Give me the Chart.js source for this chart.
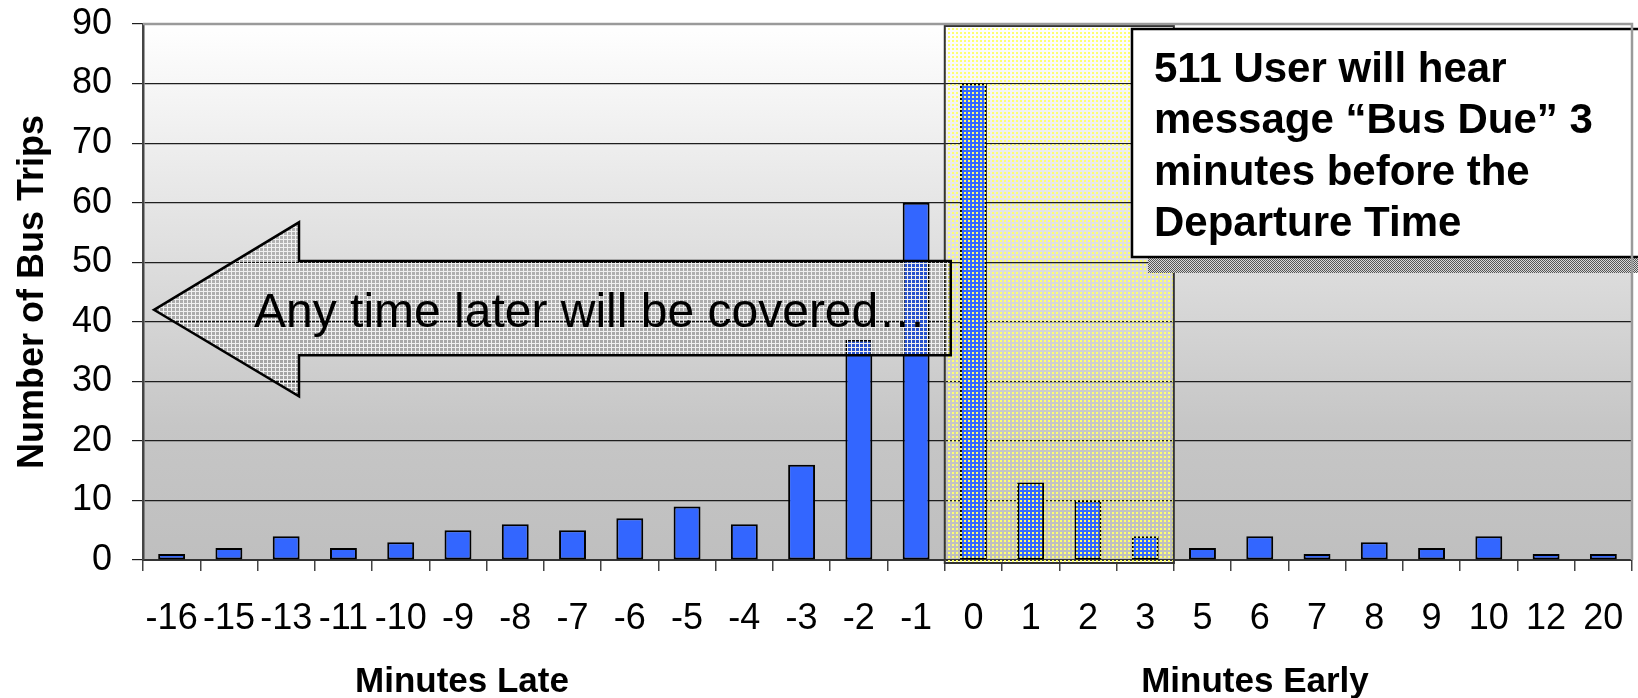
<!DOCTYPE html>
<html>
<head>
<meta charset="utf-8">
<script src="https://cdn.jsdelivr.net/npm/chart.js@4.4.1/dist/chart.umd.min.js"></script>
<style>
  html, body { margin: 0; padding: 0; background: #fff; }
  canvas { display: block; }
</style>
</head>
<body>
<canvas id="busChart" width="1638" height="698"></canvas>
<script>
// Bus departure deviation (negative = late, positive = early)
const minuteLabels = ['-16','-15','-13','-11','-10','-9','-8','-7','-6','-5','-4','-3','-2','-1',
                      '0','1','2','3','5','6','7','8','9','10','12','20'];
const busTrips = [1, 2, 4, 2, 3, 5, 6, 5, 7, 9, 6, 16, 37, 60,
                  80, 13, 10, 4, 2, 4, 1, 3, 2, 4, 1, 1];
const yTickValues = [0, 10, 20, 30, 40, 50, 60, 70, 80, 90];
const dueWindow = ['0', '3'];            // "Bus Due" window (first / last category)
const xTitles = ['Minutes Late', 'Minutes Early'];
const yTitle = 'Number of Bus Trips';
const noteLines = ['511 User will hear', 'message \u201cBus Due\u201d 3', 'minutes before the', 'Departure Time'];
const arrowText = 'Any time later will be covered\u2026';

Chart.defaults.font.family = '"Liberation Sans", Arial, sans-serif';
Chart.defaults.color = '#000';

function makePattern(ctx, size, draw) {
    const c = document.createElement('canvas');
    c.width = c.height = size;
    draw(c.getContext('2d'));
    return ctx.createPattern(c, 'repeat');
}

const overlays = {
    id: 'overlays',
    beforeDraw(chart) {
        const { ctx, chartArea: a } = chart;
        const g = ctx.createLinearGradient(0, a.top, 0, a.bottom);
        g.addColorStop(0, '#ffffff');
        g.addColorStop(0.75, '#c6c6c6');
        g.addColorStop(1, '#bfbfbf');
        ctx.save();
        ctx.fillStyle = g;
        ctx.fillRect(a.left, a.top, a.right - a.left, a.bottom - a.top);
        ctx.restore();
    },
    afterDatasetsDraw(chart) {
        const { ctx, chartArea: a, scales: { x, y } } = chart;
        const half = (x.getPixelForValue(1) - x.getPixelForValue(0)) / 2;
        ctx.save();

        // yellow "Bus Due" window (dotted overlay)
        const bx0 = x.getPixelForValue(minuteLabels.indexOf(dueWindow[0])) - half;
        const bx1 = x.getPixelForValue(minuteLabels.indexOf(dueWindow[1])) + half;
        const by0 = a.top + 2, by1 = a.bottom + 3;
        ctx.fillStyle = makePattern(ctx, 4, p => {
            p.fillStyle = '#ffff70';
            p.fillRect(0, 0, 2, 2);
        });
        ctx.fillRect(bx0, by0, bx1 - bx0, by1 - by0);
        ctx.strokeStyle = '#333';
        ctx.lineWidth = 2;
        ctx.strokeRect(bx0, by0, bx1 - bx0, by1 - by0);

        // left arrow
        const tipX = a.left + 11, headX = a.left + 156, endX = bx0 + 6;
        const tipY = y.getPixelForValue(42);
        const headTop = y.getPixelForValue(56.7), headBot = y.getPixelForValue(27.5);
        const bodyTop = y.getPixelForValue(50.2), bodyBot = y.getPixelForValue(34.4);
        ctx.beginPath();
        ctx.moveTo(tipX, tipY);
        ctx.lineTo(headX, headTop);
        ctx.lineTo(headX, bodyTop);
        ctx.lineTo(endX, bodyTop);
        ctx.lineTo(endX, bodyBot);
        ctx.lineTo(headX, bodyBot);
        ctx.lineTo(headX, headBot);
        ctx.closePath();
        ctx.fillStyle = 'rgba(0,0,0,0.2)';
        ctx.fill();
        ctx.fillStyle = makePattern(ctx, 4, p => {
            p.fillStyle = '#f0f0f0';
            p.fillRect(0, 3, 4, 1);
            p.fillRect(3, 0, 1, 4);
        });
        ctx.fill();
        ctx.strokeStyle = '#000';
        ctx.lineWidth = 2.5;
        ctx.lineJoin = 'miter';
        ctx.stroke();
        ctx.fillStyle = '#000';
        ctx.font = '48px "Liberation Sans", Arial, sans-serif';
        ctx.textAlign = 'left';
        ctx.textBaseline = 'alphabetic';
        ctx.fillText(arrowText, a.left + 111, (bodyTop + bodyBot) / 2 + 19);

        // note box with checkered shadow
        const nx = 1132, ny = 29, nh = 228;
        ctx.fillStyle = makePattern(ctx, 2, p => {
            p.fillStyle = '#d8d8d8'; p.fillRect(0, 0, 2, 2);
            p.fillStyle = '#555'; p.fillRect(0, 0, 1, 1); p.fillRect(1, 1, 1, 1);
        });
        ctx.fillRect(nx + 16, ny + nh, chart.width - nx - 16, 16);
        ctx.fillStyle = '#fff';
        ctx.fillRect(nx, ny, chart.width - nx + 10, nh);
        ctx.strokeStyle = '#000';
        ctx.lineWidth = 2.5;
        ctx.strokeRect(nx, ny, chart.width - nx + 10, nh);
        ctx.fillStyle = '#000';
        ctx.font = 'bold 42px "Liberation Sans", Arial, sans-serif';
        noteLines.forEach((t, i) => ctx.fillText(t, nx + 22, ny + 53 + i * 51.3));

        // plot frame (top and right)
        ctx.strokeStyle = '#9a9a9a';
        ctx.lineWidth = 2.5;
        ctx.beginPath();
        ctx.moveTo(a.left, a.top);
        ctx.lineTo(a.right, a.top);
        ctx.lineTo(a.right, a.bottom);
        ctx.stroke();

        // two x-axis titles
        ctx.fillStyle = '#000';
        ctx.font = 'bold 35px "Liberation Sans", Arial, sans-serif';
        ctx.textAlign = 'center';
        ctx.fillText(xTitles[0], 462, 692);
        ctx.fillText(xTitles[1], 1255, 692);
        ctx.restore();
    }
};

new Chart(document.getElementById('busChart'), {
    type: 'bar',
    data: {
        labels: minuteLabels,
        datasets: [{
            label: yTitle,
            data: busTrips,
            backgroundColor: '#3366ff',
            borderColor: '#000',
            borderWidth: 2,
            borderSkipped: false,
            barPercentage: 0.47,
            categoryPercentage: 1
        }]
    },
    options: {
        responsive: false,
        animation: false,
        layout: { padding: { top: 24, right: 6, left: 0, bottom: 0 } },
        plugins: { legend: { display: false }, tooltip: { enabled: false } },
        scales: {
            x: {
                afterFit(s) { s.height = 138; s.paddingLeft = 0; s.paddingRight = 0; },
                grid: { drawOnChartArea: false, tickLength: 11, color: '#444', lineWidth: 1.5, offset: true },
                border: { color: '#333', width: 2 },
                ticks: { autoSkip: false, maxRotation: 0, padding: 26, font: { size: 36 } }
            },
            y: {
                min: 0,
                max: 90,
                afterFit(s) { s.width = 143; s.paddingTop = 0; s.paddingBottom = 0; },
                afterBuildTicks(s) { s.ticks = yTickValues.map(v => ({ value: v })); },
                grid: { color: '#1e1e1e', lineWidth: 1.2, tickLength: 11 },
                border: { color: '#444', width: 2.5 },
                ticks: { padding: 20, font: { size: 36 } },
                title: {
                    display: true,
                    text: yTitle,
                    font: { size: 36, weight: 'bold' },
                    padding: { top: 11, bottom: 0 }
                }
            }
        }
    },
    plugins: [overlays]
});
</script>
</body>
</html>
